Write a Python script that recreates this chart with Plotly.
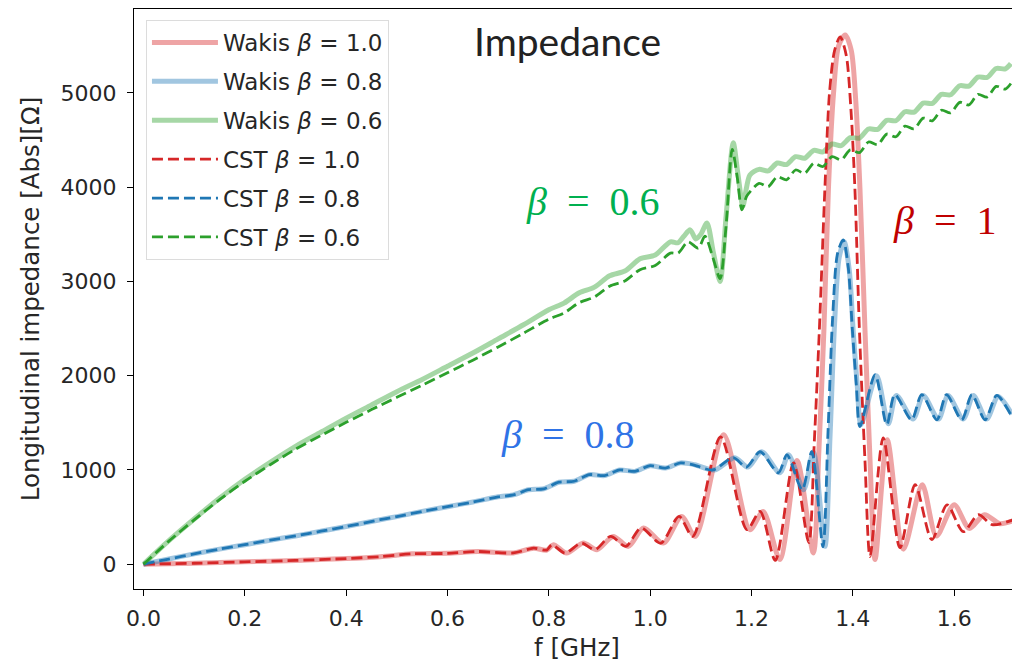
import plotly.graph_objects as go

# ---------------- data ----------------
# beta = 0.6
f_g_wakis = [0, 0.05, 0.1, 0.15, 0.2, 0.25, 0.3, 0.35, 0.4, 0.45, 0.5, 0.55, 0.6, 0.65, 0.7, 0.75, 0.8,
             0.83, 0.86, 0.89, 0.92, 0.95, 0.98, 1.01, 1.04, 1.055, 1.066, 1.079, 1.09, 1.1, 1.112, 1.125,
             1.138, 1.15, 1.164, 1.173, 1.183, 1.19, 1.197, 1.215, 1.233, 1.251, 1.269, 1.287, 1.305,
             1.323, 1.341, 1.359, 1.377, 1.395, 1.413, 1.431, 1.449, 1.467, 1.485, 1.503, 1.521, 1.539,
             1.557, 1.575, 1.593, 1.611, 1.629, 1.647, 1.665, 1.683, 1.701, 1.712]
z_g_wakis = [0, 250, 480, 700, 900, 1080, 1250, 1400, 1550, 1690, 1830, 1960, 2100, 2240, 2390, 2540, 2700,
             2770, 2880, 2940, 3060, 3110, 3240, 3280, 3420, 3410, 3476, 3547, 3450, 3500, 3620, 3300,
             3000, 3700, 4470, 4150, 3800, 3990, 4130, 4189, 4172, 4256, 4240, 4323, 4307,
             4390, 4374, 4458, 4441, 4525, 4521, 4617, 4613, 4709, 4705, 4800, 4796, 4892,
             4888, 4984, 4980, 5076, 5072, 5168, 5164, 5259, 5255, 5310]

f_g_cst = [0, 0.05, 0.1, 0.15, 0.2, 0.25, 0.3, 0.35, 0.4, 0.45, 0.5, 0.55, 0.6, 0.65, 0.7, 0.75, 0.8,
           0.83, 0.86, 0.89, 0.92, 0.95, 0.98, 1.01, 1.04, 1.055, 1.075, 1.095, 1.108, 1.124, 1.138, 1.15,
           1.162, 1.172, 1.181, 1.19, 1.197, 1.215, 1.233, 1.251, 1.269, 1.287, 1.305, 1.323, 1.341,
           1.359, 1.377, 1.395, 1.413, 1.431, 1.449, 1.467, 1.485, 1.503, 1.521, 1.539, 1.557, 1.575,
           1.593, 1.611, 1.629, 1.647, 1.665, 1.683, 1.701, 1.712]
z_g_cst = [0, 245, 470, 685, 880, 1055, 1220, 1365, 1505, 1640, 1770, 1900, 2030, 2165, 2305, 2450, 2600,
           2665, 2775, 2835, 2950, 3005, 3125, 3170, 3300, 3300, 3420, 3353, 3480, 3250, 3030, 3600,
           4400, 4100, 3760, 3900, 3950, 4040, 4006, 4111, 4077, 4182, 4148, 4253, 4219,
           4324, 4290, 4395, 4367, 4479, 4451, 4563, 4535, 4648, 4620, 4732, 4704, 4816,
           4788, 4900, 4872, 4984, 4956, 5069, 5041, 5100]

# beta = 0.8
f_b_cst = [0, 0.05, 0.1, 0.15, 0.2, 0.25, 0.3, 0.35, 0.4, 0.467, 0.5, 0.55, 0.6, 0.65, 0.7, 0.73, 0.76,
           0.79, 0.82, 0.85, 0.88, 0.91, 0.94, 0.97, 1.0, 1.03, 1.06, 1.085, 1.124, 1.164, 1.19, 1.217,
           1.253, 1.27, 1.3, 1.319, 1.341, 1.351, 1.36, 1.37, 1.381, 1.391, 1.399, 1.407, 1.414, 1.444,
           1.467, 1.483, 1.516, 1.536, 1.566, 1.585, 1.615, 1.635, 1.661, 1.684, 1.712]
z_b_cst = [0, 55, 110, 160, 207, 255, 300, 350, 400, 472, 505, 560, 610, 660, 715, 735, 790,
           800, 870, 880, 950, 940, 1000, 985, 1045, 1020, 1075, 1055, 1000, 1130, 1030, 1193,
           970, 1160, 790, 1193, 185, 1400, 2600, 3300, 3440, 3150, 2500, 1900, 1460, 2010,
           1480, 1800, 1532, 1800, 1532, 1800, 1532, 1800, 1532, 1790, 1585]

f_b_wakis = [0, 0.05, 0.1, 0.15, 0.2, 0.25, 0.3, 0.35, 0.4, 0.467, 0.5, 0.55, 0.6, 0.65, 0.7, 0.73, 0.76,
             0.79, 0.82, 0.85, 0.88, 0.91, 0.94, 0.97, 1.0, 1.03, 1.06, 1.088, 1.127, 1.167, 1.193, 1.22,
             1.256, 1.273, 1.303, 1.322, 1.345, 1.355, 1.364, 1.373, 1.383, 1.393, 1.401, 1.409, 1.416,
             1.447, 1.47, 1.486, 1.519, 1.539, 1.569, 1.588, 1.618, 1.638, 1.664, 1.687, 1.714]
z_b_wakis = [0, 55, 110, 160, 207, 255, 300, 350, 400, 472, 505, 560, 610, 660, 715, 735, 790,
             800, 870, 880, 950, 940, 1000, 985, 1045, 1020, 1075, 1055, 1000, 1130, 1030, 1193,
             970, 1160, 790, 1193, 190, 1350, 2550, 3250, 3420, 3120, 2450, 1880, 1480,
             2000, 1490, 1790, 1540, 1790, 1540, 1790, 1540, 1790, 1540, 1780, 1590]

# beta = 1.0
f_r_wakis = [0, 0.1, 0.2, 0.3, 0.4, 0.467, 0.53, 0.6, 0.66, 0.73, 0.77, 0.796, 0.809, 0.835, 0.868,
             0.895, 0.927, 0.957, 0.987, 1.026, 1.062, 1.089, 1.145, 1.197, 1.223, 1.256, 1.29, 1.322,
             1.333, 1.343, 1.352, 1.362, 1.372, 1.385, 1.397, 1.406, 1.414, 1.424, 1.434, 1.444, 1.468,
             1.5, 1.537, 1.565, 1.6, 1.63, 1.66, 1.69, 1.716]
z_r_wakis = [0, 10, 25, 40, 60, 80, 110, 115, 135, 120, 170, 150, 207, 118, 224,
             154, 295, 189, 384, 224, 507, 295, 1373, 366, 560, 50, 1100, 120,
             1200, 2490, 4000, 5000, 5500, 5615, 5450, 4900, 4000, 2490, 1100, 50, 1320,
             160, 843, 300, 630, 380, 525, 430, 460]

f_r_cst = [0, 0.1, 0.2, 0.3, 0.4, 0.467, 0.53, 0.6, 0.66, 0.73, 0.77, 0.796, 0.806, 0.832, 0.864,
           0.891, 0.922, 0.952, 0.982, 1.021, 1.057, 1.084, 1.139, 1.191, 1.217, 1.247, 1.283, 1.313,
           1.324, 1.334, 1.345, 1.354, 1.364, 1.375, 1.387, 1.396, 1.404, 1.413, 1.424, 1.434, 1.46,
           1.493, 1.523, 1.556, 1.586, 1.618, 1.648, 1.675, 1.716]
z_r_cst = [0, 10, 25, 40, 60, 80, 110, 115, 135, 120, 170, 150, 207, 118, 224,
           154, 295, 189, 384, 224, 507, 295, 1350, 366, 560, 40, 1075, 230,
           1300, 2490, 4000, 5000, 5450, 5595, 5400, 4850, 4000, 2490, 1100, 80, 1340,
           175, 843, 260, 630, 345, 525, 420, 470]

series = [
    ("Wakis <i>β</i> = 1.0", f_r_wakis, z_r_wakis, "rgba(214,39,40,0.42)", "solid", 5),
    ("Wakis <i>β</i> = 0.8", f_b_wakis, z_b_wakis, "rgba(31,119,180,0.42)", "solid", 5),
    ("Wakis <i>β</i> = 0.6", f_g_wakis, z_g_wakis, "rgba(44,160,44,0.42)", "solid", 5),
    ("CST <i>β</i> = 1.0", f_r_cst, z_r_cst, "#d62728", "11px,5px", 2.8),
    ("CST <i>β</i> = 0.8", f_b_cst, z_b_cst, "#1f77b4", "11px,5px", 2.8),
    ("CST <i>β</i> = 0.6", f_g_cst, z_g_cst, "#2ca02c", "11px,5px", 2.8),
]

x_ticks = [0.0, 0.2, 0.4, 0.6, 0.8, 1.0, 1.2, 1.4, 1.6]
y_ticks = [0, 1000, 2000, 3000, 4000, 5000]

fig = go.Figure()
for i, (name, fx, zy, col, dash, w) in enumerate(series):
    fig.add_trace(go.Scatter(
        x=fx, y=zy, mode="lines", name=name, legendgroup=str(i),
        line=dict(color=col, dash=dash, width=w, shape="spline", smoothing=0.8),
    ))

tick_font = dict(family="DejaVu Sans", size=22, color="#262626")
title_font = dict(family="DejaVu Sans", size=24.5, color="#262626")
fig.update_layout(
    width=1020, height=663,
    margin=dict(l=126, r=8, t=1, b=82),
    paper_bgcolor="white", plot_bgcolor="white",
    showlegend=True,
    legend=dict(
        x=0.0135, y=0.981, xanchor="left", yanchor="top",
        bgcolor="white", bordercolor="#dcdcdc", borderwidth=1,
        font=dict(family="DejaVu Sans", size=23, color="#262626"),
        tracegroupgap=6, traceorder="grouped", itemwidth=66,
    ),
    xaxis=dict(
        range=[-0.0188, 1.730], tickvals=x_ticks, ticktext=[f"{v:.1f}" for v in x_ticks],
        showline=True, linecolor="black", linewidth=1.3, mirror=True,
        ticks="outside", ticklen=6, tickcolor="black", tickwidth=1.2,
        showgrid=False, zeroline=False, tickfont=tick_font, automargin=False,
        ticklabelstandoff=3,
        title=dict(text="f [GHz]", font=title_font, standoff=9),
    ),
    yaxis=dict(
        range=[-263, 5890], tickvals=y_ticks,
        showline=True, linecolor="black", linewidth=1.3,
        ticks="outside", ticklen=6, tickcolor="black", tickwidth=1.2,
        showgrid=False, zeroline=False, tickfont=tick_font, automargin=False,
        ticklabelstandoff=6,
        title=dict(text="Longitudinal impedance [Abs][Ω]", font=title_font, standoff=13),
    ),
)

ann = dict(xref="paper", yref="paper", showarrow=False, xanchor="center", yanchor="middle")
fig.add_annotation(x=0.4898, y=0.945, text="Impedance",
                   font=dict(family="Lato", size=39, color="#222222"), **ann)
fig.add_annotation(x=0.518, y=0.668, text="<i>β</i>&nbsp; = &nbsp;0.6",
                   font=dict(family="Liberation Serif", size=40, color="#00b050"), **ann)
fig.add_annotation(x=0.4898, y=0.266, text="<i>β</i>&nbsp; = &nbsp;0.8",
                   font=dict(family="Liberation Serif", size=40, color="#2f73e6"), **ann)
fig.add_annotation(x=0.915, y=0.636, text="<i>β</i>&nbsp; = &nbsp;1",
                   font=dict(family="Liberation Serif", size=40, color="#c00000"), **ann)

fig.write_html("out.html")
